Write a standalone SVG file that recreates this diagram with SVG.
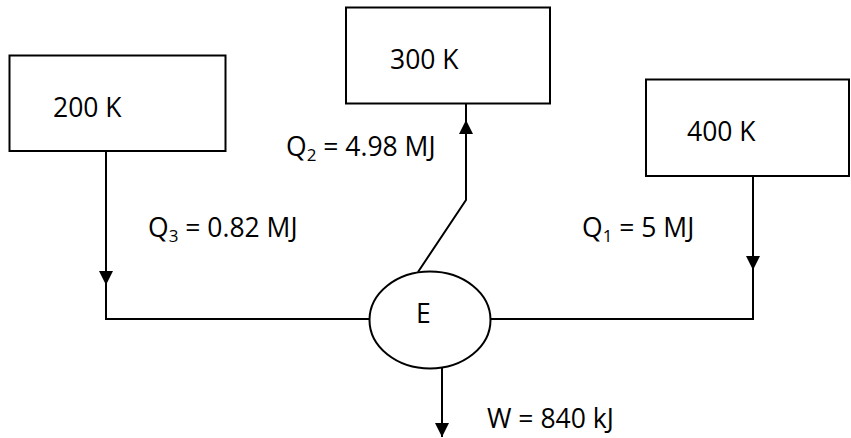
<svg xmlns="http://www.w3.org/2000/svg" width="851" height="438" viewBox="0 0 851 438">
<style>
.box{fill:#fff;stroke:#000;stroke-width:2}
.ln{fill:none;stroke:#000;stroke-width:2}
.t{font-family:"Open Sans","Liberation Sans",sans-serif;font-size:26.5px;fill:#000}
.sub{font-size:17px}
</style>
<defs>
<marker id="ah" markerWidth="14" markerHeight="15" refX="14" refY="7" orient="auto" markerUnits="userSpaceOnUse" viewBox="0 0 14 14">
<path d="M0,0 L14,7 L0,14 Z" fill="#000"/>
</marker>
</defs>
<g id="connectors">
<path class="ln" d="M106,151 V285" marker-end="url(#ah)"/>
<path class="ln" d="M106,270 V319 H370"/>
<path class="ln" d="M753,176 V270" marker-end="url(#ah)"/>
<path class="ln" d="M753,256 V319 H490"/>
<path class="ln" d="M418,272 L466,200 V120" marker-end="url(#ah)"/>
<path class="ln" d="M466,103 V121"/>
<path class="ln" d="M442,368 V437" marker-end="url(#ah)"/>
</g>
<g id="r200">
<rect class="box" x="9.5" y="55.5" width="216" height="95.5"/>
<text class="t" x="53" y="117">200 K</text>
</g>
<g id="r300">
<rect class="box" x="346" y="7.5" width="204" height="96"/>
<text class="t" x="390" y="69">300 K</text>
</g>
<g id="r400">
<rect class="box" x="646" y="79.5" width="203" height="96.5"/>
<text class="t" x="687" y="141">400 K</text>
</g>
<g id="engine">
<ellipse class="box" cx="430" cy="320" rx="60.5" ry="48.5"/>
<text class="t" x="416" y="323">E</text>
</g>
<g id="labels">
<text class="t" x="148" y="237">Q<tspan class="sub" dy="5">3</tspan><tspan dy="-5"> = 0.82 MJ</tspan></text>
<text class="t" x="286" y="156">Q<tspan class="sub" dy="5">2</tspan><tspan dy="-5"> = 4.98 MJ</tspan></text>
<text class="t" x="582" y="237">Q<tspan class="sub" dy="5">1</tspan><tspan dy="-5"> = 5 MJ</tspan></text>
<text class="t" x="487" y="428">W = 840 kJ</text>
</g>
</svg>
